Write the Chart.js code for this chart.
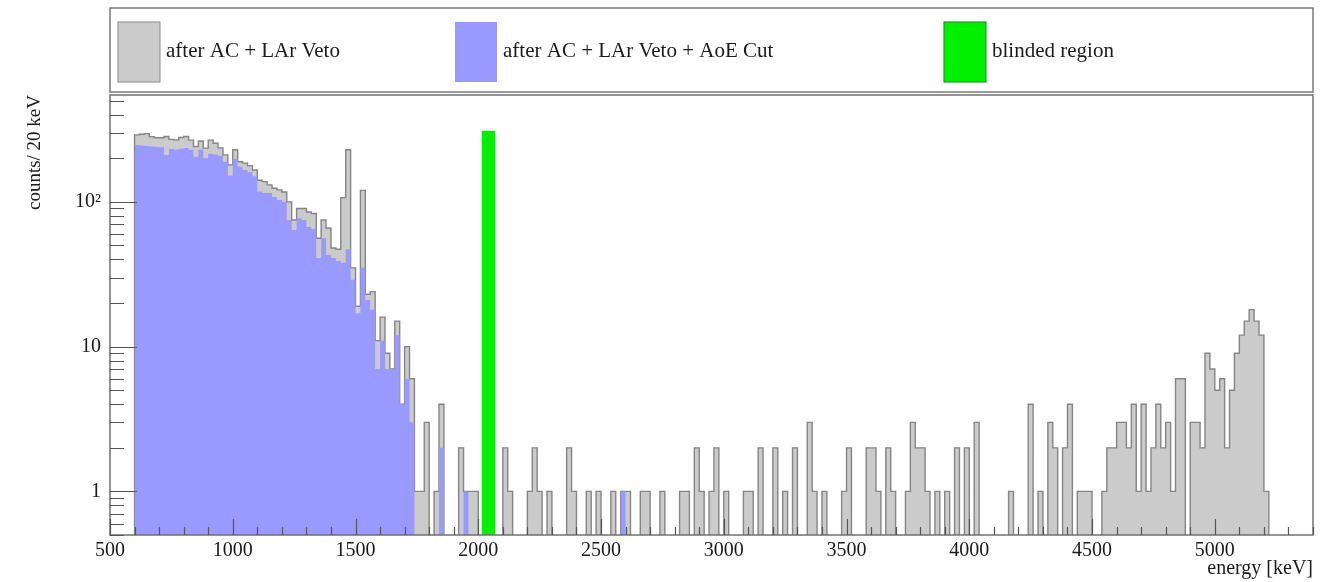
<!DOCTYPE html>
<html>
<head>
<meta charset="utf-8">
<title>energy spectrum</title>
<script src="https://cdn.jsdelivr.net/npm/chart.js@4.4.1/dist/chart.umd.min.js"></script>
<style>
  html, body { margin: 0; padding: 0; background: #fff; }
  #wrap { width: 1328px; height: 582px; }
</style>
</head>
<body>
<div id="wrap"><canvas id="spectrum" width="1328" height="582"></canvas></div>
<script>
// bins: 20 keV wide, first bin starts at 600 keV
const firstBinEdge = 600;
const binWidth = 20;

// counts per bin after AC + LAr Veto
const countsVeto = [
  290, 293, 296, 282, 277, 277, 283, 270, 268, 278,
  283, 267, 241, 263, 235, 267, 254, 236, 211, 180,
  229, 189, 185, 178, 166, 141, 138, 131, 124, 121,
  117, 100, 75, 90, 90, 85, 83, 56, 75, 66,
  48, 47, 107, 229, 35, 19, 120, 23, 24, 11,
  16, 9, 7, 15, 4, 10, 6, 1, 1, 3,
  0, 1, 4, 0, 0, 0, 2, 1, 1, 1,
  0, 0, 0, 0, 0, 2, 1, 0, 0, 0,
  1, 2, 1, 0, 1, 0, 0, 0, 2, 1,
  0, 0, 1, 0, 1, 0, 0, 1, 0, 1,
  1, 0, 0, 1, 1, 0, 0, 1, 0, 0,
  0, 1, 1, 0, 2, 1, 0, 1, 2, 0,
  1, 0, 0, 0, 1, 1, 0, 2, 0, 0,
  2, 0, 1, 0, 2, 0, 0, 3, 1, 0,
  1, 0, 0, 0, 1, 2, 0, 0, 0, 2,
  2, 1, 0, 2, 1, 0, 0, 1, 3, 2,
  2, 1, 0, 1, 0, 1, 0, 2, 0, 2,
  0, 3, 0, 0, 0, 0, 0, 0, 1, 0,
  0, 0, 4, 0, 1, 0, 3, 2, 0, 2,
  4, 0, 1, 1, 1, 0, 0, 1, 2, 2,
  3, 3, 2, 4, 1, 4, 1, 2, 4, 2,
  3, 1, 6, 6, 0, 3, 3, 2, 9, 7,
  5, 6, 2, 5, 9, 12, 15, 18, 15, 12,
  1
];

// counts per bin after AC + LAr Veto + AoE Cut
const countsAoE = [
  247, 245, 243, 241, 240, 238, 211, 232, 230, 233,
  235, 229, 205, 229, 200, 215, 212, 208, 189, 152,
  198, 175, 166, 160, 150, 118, 115, 115, 108, 103,
  100, 75, 64, 77, 75, 67, 65, 41, 56, 43,
  41, 39, 38, 47, 29, 17, 35, 21, 18, 7,
  11, 7, 7, 12, 4, 6, 3, 0, 0, 0,
  0, 0, 2, 0, 0, 0, 0, 1, 0, 0,
  0, 0, 0, 0, 0, 0, 0, 0, 0, 0,
  0, 0, 0, 0, 0, 0, 0, 0, 0, 0,
  0, 0, 0, 0, 0, 0, 0, 0, 0, 1,
  0, 0, 0, 0, 0, 0, 0, 0, 0, 0,
  0, 0, 0, 0, 0, 0, 0, 0, 0, 0,
  0, 0, 0, 0, 0, 0, 0, 0, 0, 0,
  0, 0, 0, 0, 0, 0, 0, 0, 0, 0,
  0, 0, 0, 0, 0, 0, 0, 0, 0, 0,
  0, 0, 0, 0, 0, 0, 0, 0, 0, 0,
  0, 0, 0, 0, 0, 0, 0, 0, 0, 0,
  0, 0, 0, 0, 0, 0, 0, 0, 0, 0,
  0, 0, 0, 0, 0, 0, 0, 0, 0, 0,
  0, 0, 0, 0, 0, 0, 0, 0, 0, 0,
  0, 0, 0, 0, 0, 0, 0, 0, 0, 0,
  0, 0, 0, 0, 0, 0, 0, 0, 0, 0,
  0, 0, 0, 0, 0, 0, 0, 0, 0, 0,
  0
];

// blinded window [keV] and its drawn height
const blindedRegion = [2013, 2070];
const blindedHeight = 310;

const xTickLabels = [500, 1000, 1500, 2000, 2500, 3000, 3500, 4000, 4500, 5000];
const yTickValues = [1, 10, 100];
const yTickText = ['1', '10', '10\u00B2'];

const xRange = [500, 5400];
const yRange = [0.5, 547];

// empty bins go below the axis minimum so the outline drops to the frame
const floorValue = 0.3;

function histPoints(counts) {
  const pts = [{x: firstBinEdge, y: floorValue}];
  counts.forEach(function(c, i) {
    pts.push({x: firstBinEdge + i * binWidth, y: c > 0 ? c : floorValue});
  });
  pts.push({x: firstBinEdge + counts.length * binWidth, y: floorValue});
  return pts;
}

const serif = '"Liberation Serif", "DejaVu Serif", serif';

// ROOT style frame, inward ticks and the boxed legend on top
const rootFrame = {
  id: 'rootFrame',
  afterDatasetsDraw(chart) {
    const ctx = chart.ctx;
    const a = chart.chartArea;
    const xs = chart.scales.x, ys = chart.scales.y;
    ctx.save();
    ctx.strokeStyle = '#707070';
    ctx.lineWidth = 1.5;
    ctx.strokeRect(a.left, a.top, a.right - a.left, a.bottom - a.top);

    ctx.strokeStyle = '#555';
    ctx.lineWidth = 1.2;
    ctx.beginPath();
    for (let v = xRange[0]; v <= xRange[1]; v += 100) {
      const px = Math.round(xs.getPixelForValue(v)) + 0.5;
      const len = v % 500 === 0 ? 16 : 8;
      ctx.moveTo(px, a.bottom);
      ctx.lineTo(px, a.bottom - len);
    }
    [0.1, 1, 10, 100].forEach(function(dec) {
      for (let m = 1; m <= 9; m++) {
        const v = m * dec;
        if (v < yRange[0] || v > yRange[1]) continue;
        const py = Math.round(ys.getPixelForValue(v)) + 0.5;
        const len = m === 1 ? 27 : 14;
        ctx.moveTo(a.left, py);
        ctx.lineTo(a.left + len, py);
      }
    });
    ctx.stroke();
    ctx.restore();
  },
  afterDraw(chart) {
    const ctx = chart.ctx;
    const a = chart.chartArea;
    const boxTop = 8, boxBottom = 92;
    const swatchX = [118, 455, 944];
    ctx.save();
    ctx.strokeStyle = '#7a7a7a';
    ctx.lineWidth = 1.5;
    ctx.strokeRect(a.left, boxTop, a.right - a.left, boxBottom - boxTop);
    ctx.font = '21px ' + serif;
    ctx.textBaseline = 'middle';
    chart.data.datasets.forEach(function(ds, i) {
      const x = swatchX[i];
      ctx.fillStyle = ds.backgroundColor;
      ctx.fillRect(x, 22, 42, 60);
      if (ds.legendBorder) {
        ctx.strokeStyle = ds.legendBorder;
        ctx.lineWidth = 1.2;
        ctx.strokeRect(x, 22, 42, 60);
      }
      ctx.fillStyle = '#1a1a1a';
      ctx.fillText(ds.label, x + 48, 51);
    });
    ctx.restore();
  }
};

new Chart(document.getElementById('spectrum'), {
  type: 'line',
  data: {
    datasets: [
      {
        label: 'after AC + LAr Veto',
        data: histPoints(countsVeto),
        stepped: 'before',
        fill: 'start',
        backgroundColor: '#cbcbcb',
        borderColor: '#858585',
        legendBorder: '#9a9a9a',
        borderWidth: 1.4,
        order: 3
      },
      {
        label: 'after AC + LAr Veto + AoE Cut',
        data: histPoints(countsAoE),
        stepped: 'before',
        fill: 'start',
        backgroundColor: '#9999ff',
        borderWidth: 0,
        order: 2
      },
      {
        label: 'blinded region',
        data: [
          {x: blindedRegion[0], y: floorValue},
          {x: blindedRegion[0], y: blindedHeight},
          {x: blindedRegion[1], y: floorValue}
        ],
        stepped: 'before',
        fill: 'start',
        backgroundColor: '#00f000',
        borderWidth: 0,
        legendBorder: '#20a020',
        order: 1
      }
    ]
  },
  options: {
    responsive: false,
    devicePixelRatio: 1,
    animation: false,
    layout: { padding: { top: 95, right: 15, left: 0, bottom: 0 } },
    elements: { point: { radius: 0, hoverRadius: 0 }, line: { tension: 0 } },
    plugins: {
      legend: { display: false },
      tooltip: { enabled: false }
    },
    scales: {
      x: {
        type: 'linear',
        min: xRange[0],
        max: xRange[1],
        grid: { display: false, drawTicks: false },
        border: { display: false },
        afterBuildTicks: function(s) { s.ticks = xTickLabels.map(function(v) { return {value: v}; }); },
        afterFit: function(s) { s.height = 47; },
        ticks: {
          autoSkip: false,
          maxRotation: 0,
          padding: 4,
          color: '#1a1a1a',
          font: { family: serif, size: 20 },
          callback: function(v) { return String(v); }
        },
        title: {
          display: true,
          text: 'energy [keV]',
          align: 'end',
          color: '#1a1a1a',
          padding: { top: 0, bottom: 1 },
          font: { family: serif, size: 20 }
        }
      },
      y: {
        type: 'logarithmic',
        min: yRange[0],
        max: yRange[1],
        grid: { display: false, drawTicks: false },
        border: { display: false },
        afterBuildTicks: function(s) { s.ticks = yTickValues.map(function(v) { return {value: v}; }); },
        afterFit: function(s) { s.width = 110; },
        ticks: {
          padding: 9,
          color: '#1a1a1a',
          font: { family: serif, size: 20 },
          callback: function(v) {
            const k = yTickValues.indexOf(v);
            return k >= 0 ? yTickText[k] : '';
          }
        },
        title: {
          display: true,
          text: 'counts/ 20 keV',
          align: 'end',
          color: '#1a1a1a',
          padding: { top: 24, bottom: 0 },
          font: { family: serif, size: 19 }
        }
      }
    }
  },
  plugins: [rootFrame]
});
</script>
</body>
</html>
